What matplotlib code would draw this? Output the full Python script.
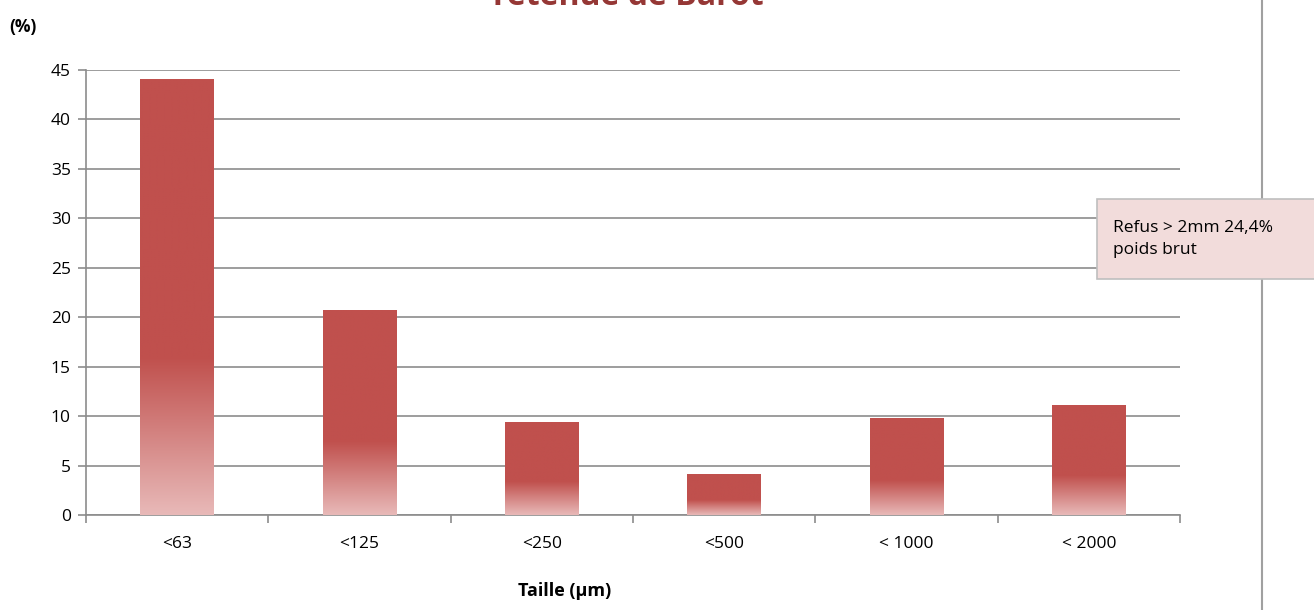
import matplotlib
matplotlib.use("Agg")
import matplotlib.pyplot as plt
import numpy as np
from matplotlib.colors import LinearSegmentedColormap
from matplotlib.patches import Rectangle

plt.rcParams['font.family'] = ['Open Sans', 'DejaVu Sans']

categories = ['<63', '<125', '<250', '<500', '< 1000', '< 2000']
values = [44.1, 20.7, 9.4, 4.15, 9.8, 11.1]
y_ticks = [0, 5, 10, 15, 20, 25, 30, 35, 40, 45]

solid = '#C0504D'
light = '#E8B9B8'
grid_c = '#8C8C8C'

W, H = 1314, 610
fig = plt.figure(figsize=(W / 100, H / 100), dpi=100)
ax = fig.add_axes([86/W, 95/H, 1094/W, 445/H])

x = np.arange(len(categories))
bars = ax.bar(x, values, width=0.405, color='none', zorder=3)

# vertical gradient: light at bottom, solid from ~36% of bar height upward
cmap = LinearSegmentedColormap.from_list('g', [(0, light), (0.36, solid), (1, solid)])
grad = np.linspace(0, 1, 256).reshape(-1, 1)
for b in bars:
    x0, w, h = b.get_x(), b.get_width(), b.get_height()
    im = ax.imshow(grad, cmap=cmap, origin='lower', aspect='auto',
                   extent=[x0, x0 + w, 0, h], zorder=3, interpolation='bilinear')
    im.set_clip_path(b)

ax.set_xlim(-0.5, len(categories) - 0.5)
ax.set_ylim(0, 45)
ax.set_yticks(y_ticks)
ax.yaxis.grid(True, color=grid_c, linewidth=1.2, zorder=0)
ax.set_axisbelow(True)
ax.set_xticks(x)
ax.set_xticklabels(categories)
ax.set_xticks(np.arange(-0.5, len(categories)), minor=True)
ax.tick_params(axis='x', which='major', length=0, pad=15, labelsize=12.5)
ax.tick_params(axis='x', which='minor', length=6, color=grid_c, width=1.2)
ax.tick_params(axis='y', length=6, color=grid_c, width=1.2, labelsize=12.5, pad=5)
for s in ['top', 'right']:
    ax.spines[s].set_visible(False)
for s in ['left', 'bottom']:
    ax.spines[s].set_color(grid_c)
    ax.spines[s].set_linewidth(1.2)

fig.text(9/W, 1 - 27/H, '(%)', fontsize=12.5, fontweight='bold', va='center')
fig.text(565/W, 1 - 591/H, 'Taille (µm)', fontsize=13, fontweight='bold',
         ha='center', va='center')
fig.text(628/W, 1 - 5/H, 'retenue de Barot', fontsize=23, fontweight='bold',
         color='#953735', ha='center', va='baseline')

# vertical separator line at right
fig.add_artist(plt.Line2D([1262/W, 1262/W], [0, 1], color='#A0A0A0', linewidth=1.5, zorder=1))

# annotation box, running off the right edge
fig.add_artist(Rectangle((1097/W, 1 - 279/H), 230/W, 80/H, transform=fig.transFigure,
                         facecolor='#F2DCDB', edgecolor='#BFBFBF', linewidth=1.2, zorder=2))
fig.text(1113/W, 1 - 239/H, 'Refus > 2mm 24,4%\npoids brut', fontsize=12.5,
         va='center', ha='left', linespacing=1.45, zorder=3)

fig.savefig('out.png', dpi=100)
